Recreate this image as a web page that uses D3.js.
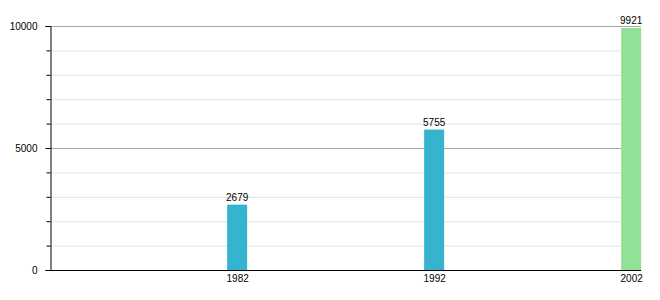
<!DOCTYPE html>
<html><head><meta charset="utf-8">
<script src="https://cdn.jsdelivr.net/npm/d3@7"></script>
<style>body{margin:0;background:#fff}svg{display:block}text{font-family:"Liberation Sans",Arial,sans-serif}</style>
</head><body><svg id="c" width="660" height="300"></svg>
<script>
const years = [1982, 1992, 2002];
const values = [2679, 5755, 9921];
const colors = ["#35b3cf", "#35b3cf", "#93e196"];
const majorTicks = [0, 5000, 10000];
const minorTicks = [1000, 2000, 3000, 4000, 6000, 7000, 8000, 9000];

const svg = d3.select("#c");
const x = d3.scaleLinear().domain([1972.5, 2002.5]).range([50, 641]);
const y = d3.scaleLinear().domain([0, 10000]).range([270, 26]);

// minor gridlines
svg.append("g").selectAll("line").data(minorTicks).join("line")
  .attr("x1", 50).attr("x2", 641)
  .attr("y1", d => y(d) + 0.5).attr("y2", d => y(d) + 0.5)
  .attr("stroke", "#e4e4e4").attr("stroke-width", 1);
// major gridlines
svg.append("g").selectAll("line").data(majorTicks.filter(d => d > 0)).join("line")
  .attr("x1", 50).attr("x2", 641)
  .attr("y1", d => y(d) + 0.5).attr("y2", d => y(d) + 0.5)
  .attr("stroke", "#a8a8a8").attr("stroke-width", 1);

// bars
const bw = 20;
svg.append("g").selectAll("rect").data(years).join("rect")
  .attr("x", (d) => x(d) - bw / 2)
  .attr("width", bw)
  .attr("y", (d, i) => y(values[i]))
  .attr("height", (d, i) => y(0) - y(values[i]))
  .attr("fill", (d, i) => colors[i]);

// value labels
svg.append("g").selectAll("text").data(years).join("text")
  .attr("x", d => x(d))
  .attr("y", (d, i) => y(values[i]) - 4)
  .attr("text-anchor", "middle")
  .attr("font-size", 10)
  .attr("fill", "#000")
  .text((d, i) => values[i]);

// y axis
const yAxis = d3.axisLeft(y).tickValues(majorTicks).tickSize(5).tickFormat(d3.format("d"));
const gy = svg.append("g").attr("transform", "translate(50.5,0)").call(yAxis);
gy.select(".domain").attr("stroke", "#000");
gy.selectAll(".tick line").attr("stroke", "#000");
gy.selectAll(".tick text").attr("font-size", 10).attr("fill", "#000")
  .attr("font-family", '"Liberation Sans",Arial,sans-serif').attr("x", -13);
// minor ticks
gy.append("g").selectAll("line").data(minorTicks).join("line")
  .attr("x1", -4).attr("x2", 0)
  .attr("y1", d => y(d) + 0.5).attr("y2", d => y(d) + 0.5)
  .attr("stroke", "#000");

// x axis
const xAxis = d3.axisBottom(x).tickValues(years).tickSize(0).tickFormat(d3.format("d"));
const gx = svg.append("g").attr("transform", "translate(0,270.5)").call(xAxis);
gx.select(".domain").attr("stroke", "#000").attr("d", "M50,0H641");
gx.selectAll(".tick text").attr("font-size", 10).attr("fill", "#000")
  .attr("font-family", '"Liberation Sans",Arial,sans-serif').attr("dy", "0.71em").attr("y", 4);
</script></body></html>
